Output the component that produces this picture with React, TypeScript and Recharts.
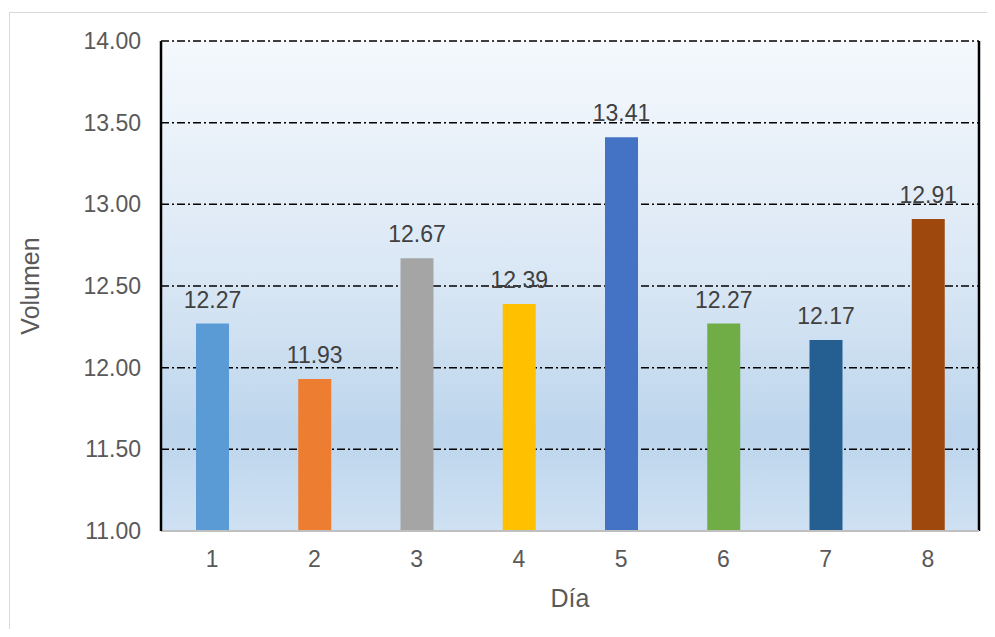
import React from 'react';
import { BarChart, Bar, Cell, XAxis, YAxis, CartesianGrid, LabelList, Label, usePlotArea } from 'recharts';

const dias = ['1', '2', '3', '4', '5', '6', '7', '8'];
const volumenes = [12.27, 11.93, 12.67, 12.39, 13.41, 12.27, 12.17, 12.91];
const yTicks = [11, 11.5, 12, 12.5, 13, 13.5, 14];

const COLORS = ['#5B9BD5', '#ED7D31', '#A5A5A5', '#FFC000', '#4472C4', '#70AD47', '#255E91', '#9E480E'];

const data = dias.map((dia, i) => ({ dia, volumen: volumenes[i] }));

const FONT = '"Liberation Sans", Arial, sans-serif';

const CHART_W = 980;
const CHART_H = 619;
const MARGIN = { top: 28, right: 11, bottom: 0, left: 0 };
const Y_AXIS_W = 151;
const X_AXIS_H = 101;

// solid right edge of the plot area
const RightEdge = () => {
    const area = usePlotArea();
    if (!area) return null;
    const { x, y, width, height } = area;
    return <line x1={x + width} y1={y} x2={x + width} y2={y + height} stroke="#000" strokeWidth={2.5} />;
};

const YTitle = ({ viewBox }: any) => {
    const x = viewBox.x + 20;
    const y = viewBox.y + viewBox.height / 2;
    return (
        <text x={x} y={y} transform={`rotate(-90 ${x} ${y})`} textAnchor="middle" dominantBaseline="central"
            fill="#595959" fontSize={25} fontFamily={FONT}>
            Volumen
        </text>
    );
};

const XTitle = ({ viewBox }: any) => {
    const x = viewBox.x + viewBox.width / 2;
    const y = viewBox.y + 67;
    return (
        <text x={x} y={y} textAnchor="middle" dominantBaseline="central" fill="#595959" fontSize={25} fontFamily={FONT}>
            Día
        </text>
    );
};

const App: React.FC = () => {
    return (
        <div style={{ position: 'relative', left: 1, top: 4, width: CHART_W, height: CHART_H, border: '1px solid #d9d9d9', background: '#fff' }}>
            {/* plot area gradient sits behind the transparent svg */}
            <div style={{
                position: 'absolute',
                left: MARGIN.left + Y_AXIS_W,
                top: MARGIN.top,
                width: CHART_W - MARGIN.left - MARGIN.right - Y_AXIS_W,
                height: CHART_H - MARGIN.top - MARGIN.bottom - X_AXIS_H,
                background: 'linear-gradient(to bottom, #f5f9fd 0%, #d8e6f4 50%, #bcd5ec 80%, #cfe1f3 100%)',
            }} />
            <div style={{ position: 'absolute', left: 0, top: 0 }}>
                <BarChart width={CHART_W} height={CHART_H} data={data} margin={MARGIN}>
                    <CartesianGrid vertical={false} stroke="#000" strokeWidth={1.5}
                        strokeDasharray="8 3 2 3" horizontalValues={yTicks} />
                    <XAxis dataKey="dia" height={X_AXIS_H} tickLine={false} tickSize={0} tickMargin={20}
                        axisLine={{ stroke: '#bfbfbf', strokeWidth: 2 }}
                        tick={{ fill: '#595959', fontSize: 23, fontFamily: FONT }}>
                        <Label content={<XTitle />} />
                    </XAxis>
                    <YAxis width={Y_AXIS_W} domain={[11, 14]} ticks={yTicks} tickFormatter={(v: number) => v.toFixed(2)}
                        tickLine={false} tickSize={0} tickMargin={20} allowDataOverflow
                        axisLine={{ stroke: '#000', strokeWidth: 2.5 }}
                        tick={{ fill: '#595959', fontSize: 23, fontFamily: FONT }}>
                        <Label content={<YTitle />} />
                    </YAxis>
                    <Bar dataKey="volumen" barSize={33} isAnimationActive={false}>
                        {data.map((entry, index) => (
                            <Cell key={`cell-${index}`} fill={COLORS[index % COLORS.length]} />
                        ))}
                        <LabelList dataKey="volumen" position="top" offset={16} formatter={(v: any) => Number(v).toFixed(2)}
                            style={{ fill: '#404040', fontSize: 23, fontFamily: FONT }} />
                    </Bar>
                    <RightEdge />
                </BarChart>
            </div>
        </div>
    );
};

export default App;
